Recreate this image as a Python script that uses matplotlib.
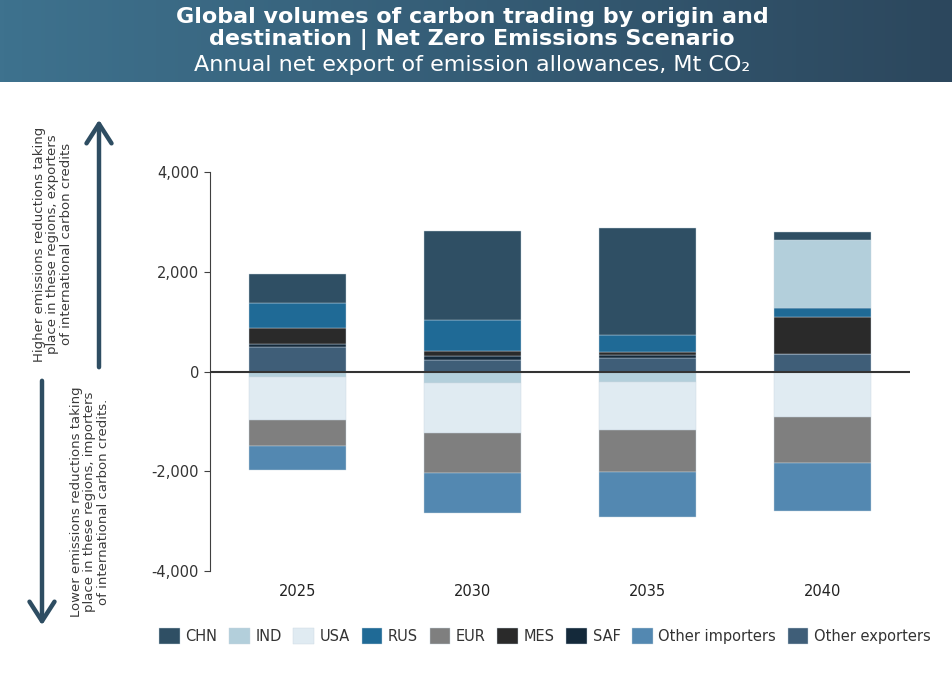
import numpy as np
import matplotlib.pyplot as plt
from matplotlib.patches import Patch

# data (Mt CO2)
years = ['2025', '2030', '2035', '2040']
chn = [575, 1790, 2150, 155]
ind = [-120, -230, -205, 1375]
usa = [-855, -1000, -975, -905]
rus = [500, 615, 340, 165]
eur = [-525, -800, -835, -935]
mes = [320, 115, 55, 745]
saf = [65, 65, 65, 10]
other_imp = [-475, -805, -895, -965]
other_exp = [495, 240, 275, 345]

series = {
    'CHN': (chn, '#2f4f64'),
    'IND': (ind, '#b3cfdb'),
    'USA': (usa, '#e0ebf2'),
    'RUS': (rus, '#1f6a96'),
    'EUR': (eur, '#7f7f7f'),
    'MES': (mes, '#2a2a2a'),
    'SAF': (saf, '#14293a'),
    'Other importers': (other_imp, '#5388b1'),
    'Other exporters': (other_exp, '#3f5e78'),
}
# stacking order outward from zero
stack_order = ['Other exporters', 'SAF', 'MES', 'RUS', 'IND', 'USA', 'EUR', 'Other importers', 'CHN']

fig = plt.figure(figsize=(9.52, 6.76), dpi=100)

# title banner with gradient
bax = fig.add_axes([0, 1 - 82 / 676, 1, 82 / 676])
c0 = np.array([0x3e, 0x72, 0x8e]) / 255
c1 = np.array([0x2c, 0x47, 0x5d]) / 255
t = np.linspace(0, 1, 256)
grad = (c0[None, :] * (1 - t[:, None]) + c1[None, :] * t[:, None])[None, :, :]
bax.imshow(grad, aspect='auto', extent=[0, 1, 0, 1])
bax.axis('off')

fig.text(0.496, 1 - 17 / 676, 'Global volumes of carbon trading by origin and',
         ha='center', va='center', color='white', fontsize=16, fontweight='heavy')
fig.text(0.496, 1 - 40 / 676, 'destination | Net Zero Emissions Scenario',
         ha='center', va='center', color='white', fontsize=16, fontweight='heavy')
fig.text(0.496, 1 - 65 / 676, 'Annual net export of emission allowances, Mt CO\u2082',
         ha='center', va='center', color='white', fontsize=16)

ax = fig.add_axes([210 / 952, 1 - 571 / 676, 700 / 952, 399 / 676])
x = np.arange(len(years))
pos_base = np.zeros(len(years))
neg_base = np.zeros(len(years))
for name in stack_order:
    vals, col = series[name]
    vals = np.array(vals, dtype=float)
    bottoms = np.where(vals >= 0, pos_base, neg_base)
    ax.bar(x, vals, bottom=bottoms, width=0.55, color=col,
           edgecolor='#c9d6e0', linewidth=0.3, zorder=2)
    pos_base = pos_base + np.clip(vals, 0, None)
    neg_base = neg_base + np.clip(vals, None, 0)

ax.axhline(0, color='#333333', linewidth=1.5, zorder=3)
ax.set_xlim(-0.5, 3.5)
ax.set_ylim(-4000, 4000)
ax.set_yticks([-4000, -2000, 0, 2000, 4000])
ax.set_yticklabels(['-4,000', '-2,000', '0', '2,000', '4,000'])
ax.set_xticks(x)
ax.set_xticklabels(years)
for s in ['top', 'right', 'bottom']:
    ax.spines[s].set_visible(False)
ax.spines['left'].set_color('#404040')
ax.tick_params(axis='y', length=4, color='#404040', labelsize=10.5, labelcolor='#333333', pad=4)
ax.tick_params(axis='x', length=0, labelsize=10.5, labelcolor='#222222', pad=9)

# side notes with arrows
arrow_kw = dict(arrowstyle='->,head_length=0.7,head_width=0.45', color='#2e4d62', lw=3.2)
fig.add_artist(plt.matplotlib.patches.FancyArrowPatch(
    (99 / 952, 1 - 370 / 676), (99 / 952, 1 - 117 / 676),
    transform=fig.transFigure, mutation_scale=20, **arrow_kw))
fig.add_artist(plt.matplotlib.patches.FancyArrowPatch(
    (42 / 952, 1 - 378 / 676), (42 / 952, 1 - 628 / 676),
    transform=fig.transFigure, mutation_scale=20, **arrow_kw))

fig.text(53 / 952, 1 - 244 / 676,
         'Higher emissions reductions taking\nplace in these regions, exporters\nof international carbon credits',
         rotation=90, ha='center', va='center', multialignment='center',
         fontsize=9.5, color='#3a3a3a', linespacing=1.05)
fig.text(90 / 952, 1 - 502 / 676,
         'Lower emissions reductions taking\nplace in these regions, importers\nof international carbon credits.',
         rotation=90, ha='center', va='center', multialignment='center',
         fontsize=9.5, color='#3a3a3a', linespacing=1.05)

legend_names = ['CHN', 'IND', 'USA', 'RUS', 'EUR', 'MES', 'SAF', 'Other importers', 'Other exporters']
handles = [Patch(facecolor=series[n][1], edgecolor='#c9d6e0', linewidth=0.3) for n in legend_names]
fig.legend(handles, legend_names, loc='center', bbox_to_anchor=(545 / 952, 1 - 636 / 676),
           ncol=9, frameon=False, fontsize=10.5, handlelength=1.4, handleheight=1.4,
           handletextpad=0.4, columnspacing=0.8, labelcolor='#333333')

fig.savefig('out.png', dpi=100)
